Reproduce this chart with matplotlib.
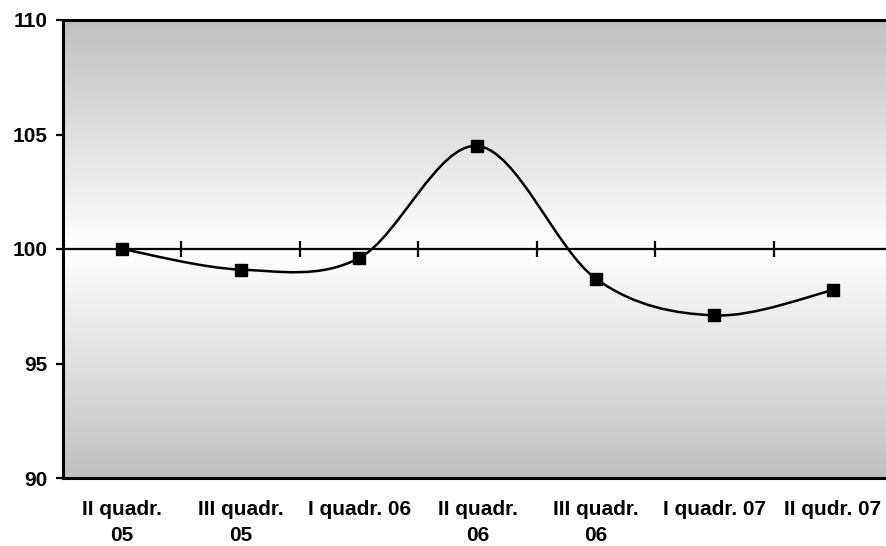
import numpy as np
import matplotlib.pyplot as plt
from matplotlib.path import Path
from matplotlib.patches import PathPatch
from matplotlib.colors import LinearSegmentedColormap

categories = ["II quadr.\n05", "III quadr.\n05", "I quadr. 06", "II quadr.\n06",
              "III quadr.\n06", "I quadr. 07", "II qudr. 07"]
values = [100.0, 99.1, 99.6, 104.5, 98.7, 97.1, 98.2]
yticks = [90, 95, 100, 105, 110]

plt.rcParams['font.family'] = ['Liberation Sans', 'DejaVu Sans']
plt.rcParams['font.weight'] = 'bold'

fig = plt.figure(figsize=(8.87, 5.46), dpi=100)
ax = fig.add_axes([63 / 887, 68 / 546, 829 / 887, 458 / 546])

n = len(categories)
ax.set_xlim(-0.5, n - 0.5)
ax.set_ylim(90, 110)

# gradient background: grey at top and bottom, white around 100
grad = np.abs(np.linspace(90, 110, 256) - 100) / 10
cmap = LinearSegmentedColormap.from_list('g', ['#ffffff', '#c0c0c0'])
ax.imshow(grad[:, None], aspect='auto', cmap=cmap, origin='lower',
          extent=(-0.5, n - 0.5, 90, 110), zorder=0, interpolation='bicubic')

# line at 100 with crossing ticks between categories
ax.axhline(100, color='black', lw=1.6, zorder=2)
ax.plot(np.arange(n - 1) + 0.5, [100] * (n - 1), ls='none', marker='|',
        ms=11, mew=1.6, color='black', zorder=2)

# smoothed line (Catmull-Rom as bezier)
x = np.arange(n, dtype=float)
y = np.array(values)
pts = np.column_stack([x, y])
ext = np.vstack([pts[0], pts, pts[-1]])
verts = [tuple(pts[0])]
codes = [Path.MOVETO]
for i in range(n - 1):
    p0, p1, p2, p3 = ext[i], ext[i + 1], ext[i + 2], ext[i + 3]
    c1 = p1 + (p2 - p0) / 6
    c2 = p2 - (p3 - p1) / 6
    verts += [tuple(c1), tuple(c2), tuple(p2)]
    codes += [Path.CURVE4] * 3
ax.add_patch(PathPatch(Path(verts, codes), fill=False, lw=1.8,
                       edgecolor='black', zorder=3))
ax.plot(x, y, ls='none', marker='s', ms=8.5, color='black', zorder=4)

ax.set_yticks(yticks)
ax.set_yticklabels([str(v) for v in yticks], fontsize=15, fontweight='bold')
ax.set_xticks(x)
ax.set_xticklabels(categories, fontsize=15, fontweight='bold', linespacing=1.45)
ax.tick_params(axis='x', length=0, pad=16)
ax.tick_params(axis='y', length=5, width=1.6, direction='out', pad=6)

for side in ['left', 'top', 'bottom', 'right']:
    ax.spines[side].set_linewidth(2.2)

fig.savefig('out.png', dpi=100)
